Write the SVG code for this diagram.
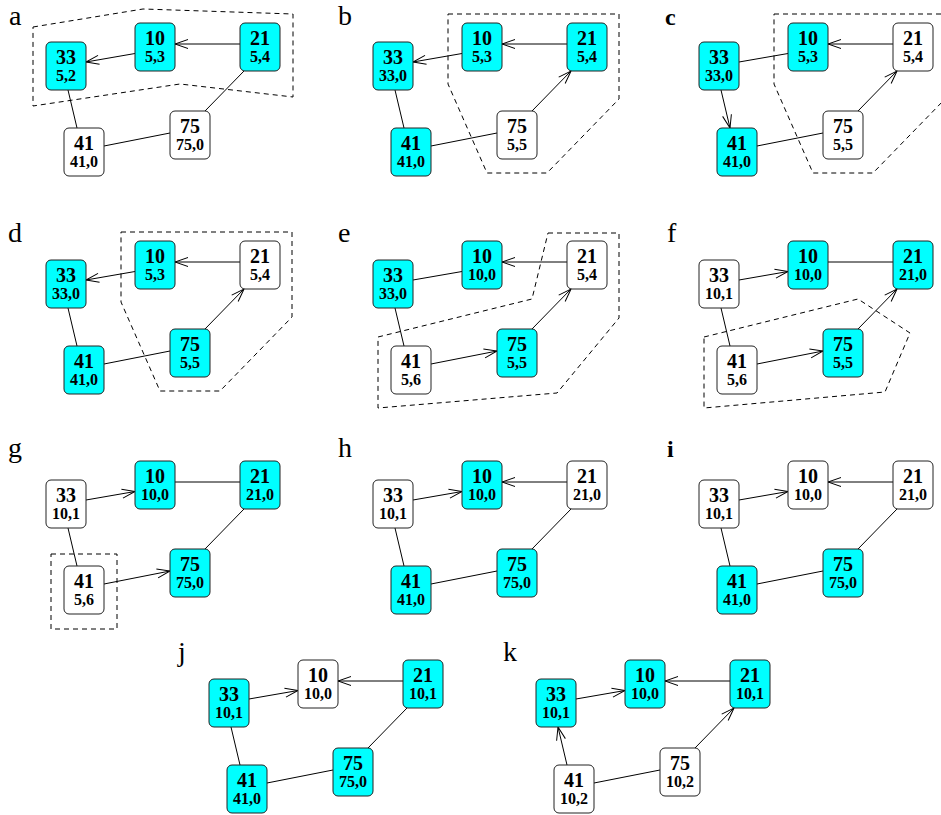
<svg xmlns="http://www.w3.org/2000/svg" width="941" height="815" viewBox="0 0 941 815">
<style>
.bg{fill:#fff}
.n rect{stroke:#222;stroke-width:1}
.c rect{fill:#00ffff}
.w rect{fill:#fff}
.n text{font-family:"Liberation Serif","Times New Roman",serif;font-weight:bold;text-anchor:middle;fill:#000}
.t1{font-size:20px}
.t2{font-size:16px}
.e path{fill:none;stroke:#000;stroke-width:1}
.e .a{marker-end:url(#arr)}
.dash{fill:none;stroke:#000;stroke-width:1;stroke-dasharray:5,4}
.lbl{font-family:"Liberation Serif","Times New Roman",serif;font-size:28px;fill:#000}
.lblb{font-family:"Liberation Serif","Times New Roman",serif;font-size:24px;font-weight:bold;fill:#000}
</style>
<defs>
<marker id="arr" markerUnits="userSpaceOnUse" markerWidth="20" markerHeight="16" viewBox="-16 -8 20 16" refX="0" refY="0" orient="auto">
<path d="M-13,-4.5 L0,0 L-13,4.5" fill="none" stroke="#000" stroke-width="1"/>
</marker>
</defs>
<rect class="bg" x="0" y="0" width="941" height="815"/>

<g id="labels">
<text class="lbl" x="9" y="25">a</text>
<text class="lbl" x="338" y="25">b</text>
<text class="lblb" x="665" y="25">c</text>
<text class="lbl" x="8" y="242">d</text>
<text class="lbl" x="338" y="242">e</text>
<text class="lbl" x="667" y="242">f</text>
<text class="lbl" x="8" y="457">g</text>
<text class="lbl" x="338" y="457">h</text>
<text class="lblb" x="667" y="457">i</text>
<text class="lbl" x="178" y="661">j</text>
<text class="lbl" x="503" y="661">k</text>
</g>

<!-- Panel a -->
<g id="panel-a">
<polygon id="a-region" class="dash" points="33,27 143,9 293,14 293,97 180,84 33,106"/>
<g id="a-edges" class="e">
<path class="a" d="M135,53.5 L86,62"/>
<path class="a" d="M240,44 L175,44"/>
<path d="M68,90 L77,128"/>
<path d="M104,146 L170,133"/>
<path d="M244,71 L205,111"/>
</g>
<g id="a-n33" class="n c"><rect x="46" y="42" width="40" height="48" rx="5"/><text class="t1" x="66" y="64">33</text><text class="t2" x="66" y="80.5">5,2</text></g>
<g id="a-n10" class="n c"><rect x="135" y="23" width="40" height="48" rx="5"/><text class="t1" x="155" y="45">10</text><text class="t2" x="155" y="61.5">5,3</text></g>
<g id="a-n21" class="n c"><rect x="240" y="23" width="40" height="48" rx="5"/><text class="t1" x="260" y="45">21</text><text class="t2" x="260" y="61.5">5,4</text></g>
<g id="a-n41" class="n w"><rect x="64" y="128" width="40" height="48" rx="5"/><text class="t1" x="84" y="150">41</text><text class="t2" x="84" y="166.5">41,0</text></g>
<g id="a-n75" class="n w"><rect x="170" y="111" width="40" height="48" rx="5"/><text class="t1" x="190" y="133">75</text><text class="t2" x="190" y="149.5">75,0</text></g>
</g>

<!-- Panel b -->
<g id="panel-b" transform="translate(327,0)">
<polygon id="b-region" class="dash" points="121,14 292,14 292,99 220,173 160,173 121,84"/>
<g id="b-edges" class="e">
<path class="a" d="M135,53.5 L86,62"/>
<path class="a" d="M240,44 L175,44"/>
<path d="M68,90 L77,128"/>
<path d="M104,146 L170,133"/>
<path class="a" d="M205,111 L244,71"/>
</g>
<g id="b-n33" class="n c"><rect x="46" y="42" width="40" height="48" rx="5"/><text class="t1" x="66" y="64">33</text><text class="t2" x="66" y="80.5">33,0</text></g>
<g id="b-n10" class="n c"><rect x="135" y="23" width="40" height="48" rx="5"/><text class="t1" x="155" y="45">10</text><text class="t2" x="155" y="61.5">5,3</text></g>
<g id="b-n21" class="n c"><rect x="240" y="23" width="40" height="48" rx="5"/><text class="t1" x="260" y="45">21</text><text class="t2" x="260" y="61.5">5,4</text></g>
<g id="b-n41" class="n c"><rect x="64" y="128" width="40" height="48" rx="5"/><text class="t1" x="84" y="150">41</text><text class="t2" x="84" y="166.5">41,0</text></g>
<g id="b-n75" class="n w"><rect x="170" y="111" width="40" height="48" rx="5"/><text class="t1" x="190" y="133">75</text><text class="t2" x="190" y="149.5">5,5</text></g>
</g>

<!-- Panel c -->
<g id="panel-c" transform="translate(653,0)">
<polygon id="c-region" class="dash" points="121,14 292,14 292,99 220,173 160,173 121,84"/>
<g id="c-edges" class="e">
<path d="M135,53.5 L86,62"/>
<path class="a" d="M240,44 L175,44"/>
<path class="a" d="M68,90 L77,128"/>
<path d="M104,146 L170,133"/>
<path class="a" d="M205,111 L244,71"/>
</g>
<g id="c-n33" class="n c"><rect x="46" y="42" width="40" height="48" rx="5"/><text class="t1" x="66" y="64">33</text><text class="t2" x="66" y="80.5">33,0</text></g>
<g id="c-n10" class="n c"><rect x="135" y="23" width="40" height="48" rx="5"/><text class="t1" x="155" y="45">10</text><text class="t2" x="155" y="61.5">5,3</text></g>
<g id="c-n21" class="n w"><rect x="240" y="23" width="40" height="48" rx="5"/><text class="t1" x="260" y="45">21</text><text class="t2" x="260" y="61.5">5,4</text></g>
<g id="c-n41" class="n c"><rect x="64" y="128" width="40" height="48" rx="5"/><text class="t1" x="84" y="150">41</text><text class="t2" x="84" y="166.5">41,0</text></g>
<g id="c-n75" class="n w"><rect x="170" y="111" width="40" height="48" rx="5"/><text class="t1" x="190" y="133">75</text><text class="t2" x="190" y="149.5">5,5</text></g>
</g>

<!-- Panel d -->
<g id="panel-d" transform="translate(0,218)">
<polygon id="d-region" class="dash" points="121,14 292,14 292,99 220,173 160,173 121,84"/>
<g id="d-edges" class="e">
<path class="a" d="M135,53.5 L86,62"/>
<path class="a" d="M240,44 L175,44"/>
<path d="M68,90 L77,128"/>
<path d="M104,146 L170,133"/>
<path class="a" d="M205,111 L244,71"/>
</g>
<g id="d-n33" class="n c"><rect x="46" y="42" width="40" height="48" rx="5"/><text class="t1" x="66" y="64">33</text><text class="t2" x="66" y="80.5">33,0</text></g>
<g id="d-n10" class="n c"><rect x="135" y="23" width="40" height="48" rx="5"/><text class="t1" x="155" y="45">10</text><text class="t2" x="155" y="61.5">5,3</text></g>
<g id="d-n21" class="n w"><rect x="240" y="23" width="40" height="48" rx="5"/><text class="t1" x="260" y="45">21</text><text class="t2" x="260" y="61.5">5,4</text></g>
<g id="d-n41" class="n c"><rect x="64" y="128" width="40" height="48" rx="5"/><text class="t1" x="84" y="150">41</text><text class="t2" x="84" y="166.5">41,0</text></g>
<g id="d-n75" class="n c"><rect x="170" y="111" width="40" height="48" rx="5"/><text class="t1" x="190" y="133">75</text><text class="t2" x="190" y="149.5">5,5</text></g>
</g>

<!-- Panel e -->
<g id="panel-e" transform="translate(327,218)">
<polygon id="e-region" class="dash" points="221,15 292,15 292,100 230,175 51,190 51,119 205,81"/>
<g id="e-edges" class="e">
<path d="M135,53.5 L86,62"/>
<path class="a" d="M240,44 L175,44"/>
<path d="M68,90 L77,128"/>
<path class="a" d="M104,146 L170,133"/>
<path class="a" d="M205,111 L244,71"/>
</g>
<g id="e-n33" class="n c"><rect x="46" y="42" width="40" height="48" rx="5"/><text class="t1" x="66" y="64">33</text><text class="t2" x="66" y="80.5">33,0</text></g>
<g id="e-n10" class="n c"><rect x="135" y="23" width="40" height="48" rx="5"/><text class="t1" x="155" y="45">10</text><text class="t2" x="155" y="61.5">10,0</text></g>
<g id="e-n21" class="n w"><rect x="240" y="23" width="40" height="48" rx="5"/><text class="t1" x="260" y="45">21</text><text class="t2" x="260" y="61.5">5,4</text></g>
<g id="e-n41" class="n w"><rect x="64" y="128" width="40" height="48" rx="5"/><text class="t1" x="84" y="150">41</text><text class="t2" x="84" y="166.5">5,6</text></g>
<g id="e-n75" class="n c"><rect x="170" y="111" width="40" height="48" rx="5"/><text class="t1" x="190" y="133">75</text><text class="t2" x="190" y="149.5">5,5</text></g>
</g>

<!-- Panel f -->
<g id="panel-f" transform="translate(653,218)">
<polygon id="f-region" class="dash" points="51,119 205,81 257,115 232,174 51,190"/>
<g id="f-edges" class="e">
<path class="a" d="M86,62 L135,53.5"/>
<path d="M240,44 L175,44"/>
<path d="M68,90 L77,128"/>
<path class="a" d="M104,146 L170,133"/>
<path class="a" d="M205,111 L244,71"/>
</g>
<g id="f-n33" class="n w"><rect x="46" y="42" width="40" height="48" rx="5"/><text class="t1" x="66" y="64">33</text><text class="t2" x="66" y="80.5">10,1</text></g>
<g id="f-n10" class="n c"><rect x="135" y="23" width="40" height="48" rx="5"/><text class="t1" x="155" y="45">10</text><text class="t2" x="155" y="61.5">10,0</text></g>
<g id="f-n21" class="n c"><rect x="240" y="23" width="40" height="48" rx="5"/><text class="t1" x="260" y="45">21</text><text class="t2" x="260" y="61.5">21,0</text></g>
<g id="f-n41" class="n w"><rect x="64" y="128" width="40" height="48" rx="5"/><text class="t1" x="84" y="150">41</text><text class="t2" x="84" y="166.5">5,6</text></g>
<g id="f-n75" class="n c"><rect x="170" y="111" width="40" height="48" rx="5"/><text class="t1" x="190" y="133">75</text><text class="t2" x="190" y="149.5">5,5</text></g>
</g>

<!-- Panel g -->
<g id="panel-g" transform="translate(0,438)">
<rect id="g-region" class="dash" x="51" y="116" width="66" height="75"/>
<g id="g-edges" class="e">
<path class="a" d="M86,62 L135,53.5"/>
<path d="M240,44 L175,44"/>
<path d="M68,90 L77,128"/>
<path class="a" d="M104,146 L170,133"/>
<path d="M244,71 L205,111"/>
</g>
<g id="g-n33" class="n w"><rect x="46" y="42" width="40" height="48" rx="5"/><text class="t1" x="66" y="64">33</text><text class="t2" x="66" y="80.5">10,1</text></g>
<g id="g-n10" class="n c"><rect x="135" y="23" width="40" height="48" rx="5"/><text class="t1" x="155" y="45">10</text><text class="t2" x="155" y="61.5">10,0</text></g>
<g id="g-n21" class="n c"><rect x="240" y="23" width="40" height="48" rx="5"/><text class="t1" x="260" y="45">21</text><text class="t2" x="260" y="61.5">21,0</text></g>
<g id="g-n41" class="n w"><rect x="64" y="128" width="40" height="48" rx="5"/><text class="t1" x="84" y="150">41</text><text class="t2" x="84" y="166.5">5,6</text></g>
<g id="g-n75" class="n c"><rect x="170" y="111" width="40" height="48" rx="5"/><text class="t1" x="190" y="133">75</text><text class="t2" x="190" y="149.5">75,0</text></g>
</g>

<!-- Panel h -->
<g id="panel-h" transform="translate(327,438)">
<g id="h-edges" class="e">
<path class="a" d="M86,62 L135,53.5"/>
<path class="a" d="M240,44 L175,44"/>
<path d="M68,90 L77,128"/>
<path d="M104,146 L170,133"/>
<path d="M244,71 L205,111"/>
</g>
<g id="h-n33" class="n w"><rect x="46" y="42" width="40" height="48" rx="5"/><text class="t1" x="66" y="64">33</text><text class="t2" x="66" y="80.5">10,1</text></g>
<g id="h-n10" class="n c"><rect x="135" y="23" width="40" height="48" rx="5"/><text class="t1" x="155" y="45">10</text><text class="t2" x="155" y="61.5">10,0</text></g>
<g id="h-n21" class="n w"><rect x="240" y="23" width="40" height="48" rx="5"/><text class="t1" x="260" y="45">21</text><text class="t2" x="260" y="61.5">21,0</text></g>
<g id="h-n41" class="n c"><rect x="64" y="128" width="40" height="48" rx="5"/><text class="t1" x="84" y="150">41</text><text class="t2" x="84" y="166.5">41,0</text></g>
<g id="h-n75" class="n c"><rect x="170" y="111" width="40" height="48" rx="5"/><text class="t1" x="190" y="133">75</text><text class="t2" x="190" y="149.5">75,0</text></g>
</g>

<!-- Panel i -->
<g id="panel-i" transform="translate(653,438)">
<g id="i-edges" class="e">
<path class="a" d="M86,62 L135,53.5"/>
<path class="a" d="M240,44 L175,44"/>
<path d="M68,90 L77,128"/>
<path d="M104,146 L170,133"/>
<path d="M244,71 L205,111"/>
</g>
<g id="i-n33" class="n w"><rect x="46" y="42" width="40" height="48" rx="5"/><text class="t1" x="66" y="64">33</text><text class="t2" x="66" y="80.5">10,1</text></g>
<g id="i-n10" class="n w"><rect x="135" y="23" width="40" height="48" rx="5"/><text class="t1" x="155" y="45">10</text><text class="t2" x="155" y="61.5">10,0</text></g>
<g id="i-n21" class="n w"><rect x="240" y="23" width="40" height="48" rx="5"/><text class="t1" x="260" y="45">21</text><text class="t2" x="260" y="61.5">21,0</text></g>
<g id="i-n41" class="n c"><rect x="64" y="128" width="40" height="48" rx="5"/><text class="t1" x="84" y="150">41</text><text class="t2" x="84" y="166.5">41,0</text></g>
<g id="i-n75" class="n c"><rect x="170" y="111" width="40" height="48" rx="5"/><text class="t1" x="190" y="133">75</text><text class="t2" x="190" y="149.5">75,0</text></g>
</g>

<!-- Panel j -->
<g id="panel-j" transform="translate(163,637)">
<g id="j-edges" class="e">
<path class="a" d="M86,62 L135,53.5"/>
<path class="a" d="M240,44 L175,44"/>
<path d="M68,90 L77,128"/>
<path d="M104,146 L170,133"/>
<path d="M244,71 L205,111"/>
</g>
<g id="j-n33" class="n c"><rect x="46" y="42" width="40" height="48" rx="5"/><text class="t1" x="66" y="64">33</text><text class="t2" x="66" y="80.5">10,1</text></g>
<g id="j-n10" class="n w"><rect x="135" y="23" width="40" height="48" rx="5"/><text class="t1" x="155" y="45">10</text><text class="t2" x="155" y="61.5">10,0</text></g>
<g id="j-n21" class="n c"><rect x="240" y="23" width="40" height="48" rx="5"/><text class="t1" x="260" y="45">21</text><text class="t2" x="260" y="61.5">10,1</text></g>
<g id="j-n41" class="n c"><rect x="64" y="128" width="40" height="48" rx="5"/><text class="t1" x="84" y="150">41</text><text class="t2" x="84" y="166.5">41,0</text></g>
<g id="j-n75" class="n c"><rect x="170" y="111" width="40" height="48" rx="5"/><text class="t1" x="190" y="133">75</text><text class="t2" x="190" y="149.5">75,0</text></g>
</g>

<!-- Panel k -->
<g id="panel-k" transform="translate(490,637)">
<g id="k-edges" class="e">
<path class="a" d="M86,62 L135,53.5"/>
<path class="a" d="M240,44 L175,44"/>
<path class="a" d="M77,128 L68,90"/>
<path d="M104,146 L170,133"/>
<path class="a" d="M205,111 L244,71"/>
</g>
<g id="k-n33" class="n c"><rect x="46" y="42" width="40" height="48" rx="5"/><text class="t1" x="66" y="64">33</text><text class="t2" x="66" y="80.5">10,1</text></g>
<g id="k-n10" class="n c"><rect x="135" y="23" width="40" height="48" rx="5"/><text class="t1" x="155" y="45">10</text><text class="t2" x="155" y="61.5">10,0</text></g>
<g id="k-n21" class="n c"><rect x="240" y="23" width="40" height="48" rx="5"/><text class="t1" x="260" y="45">21</text><text class="t2" x="260" y="61.5">10,1</text></g>
<g id="k-n41" class="n w"><rect x="64" y="128" width="40" height="48" rx="5"/><text class="t1" x="84" y="150">41</text><text class="t2" x="84" y="166.5">10,2</text></g>
<g id="k-n75" class="n w"><rect x="170" y="111" width="40" height="48" rx="5"/><text class="t1" x="190" y="133">75</text><text class="t2" x="190" y="149.5">10,2</text></g>
</g>
</svg>
